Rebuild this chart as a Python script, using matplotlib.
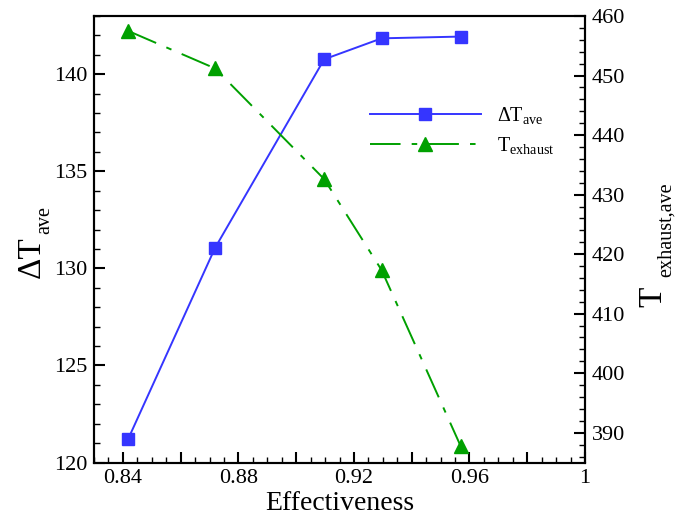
import numpy as np
import matplotlib
matplotlib.use("Agg")
import matplotlib.pyplot as plt
from matplotlib.ticker import MultipleLocator

plt.rcParams['font.family'] = ['Liberation Serif', 'DejaVu Serif']
plt.rcParams['mathtext.fontset'] = 'custom'
plt.rcParams['mathtext.rm'] = 'Liberation Serif'
plt.rcParams['mathtext.it'] = 'Liberation Serif:italic'
plt.rcParams['lines.scale_dashes'] = False

# data
effectiveness = [0.8418, 0.8719, 0.9097, 0.9296, 0.957]
dT_ave = [121.2, 131.05, 140.77, 141.85, 141.94]
T_exhaust = [457.5, 451.2, 432.6, 417.3, 387.7]

xtick_pos = [0.84, 0.86, 0.88, 0.90, 0.92, 0.94, 0.96, 0.98, 1.0]
xtick_labels = ['0.84', '', '0.88', '', '0.92', '', '0.96', '', '1']

blue = '#3535ff'
green = '#00a000'

W, H = 677, 518
fig = plt.figure(figsize=(W / 100, H / 100), dpi=100)
ax = fig.add_axes([94 / W, 1 - 462.5 / H, (585 - 94) / W, (462.5 - 16) / H])
ax2 = ax.twinx()

l1, = ax.plot(effectiveness, dT_ave, color=blue, lw=1.4, marker='s', ms=9,
              label=r'$\Delta\mathrm{T}_{\mathrm{ave}}$')
l2, = ax2.plot(effectiveness, T_exhaust, color=green, lw=1.4, marker='^', ms=10,
               dashes=(22, 8, 4, 8), label=r'$\mathrm{T}_{\mathrm{exhaust}}$')

ax.set_xlim(0.83, 1.0)
ax.set_ylim(120, 143)
ax2.set_ylim(385, 460)

ax.set_xticks(xtick_pos)
ax.set_xticklabels(xtick_labels)
ax.xaxis.set_minor_locator(MultipleLocator(0.005))
ax.yaxis.set_major_locator(MultipleLocator(5))
ax.yaxis.set_minor_locator(MultipleLocator(1))
ax2.yaxis.set_major_locator(MultipleLocator(10))
ax2.yaxis.set_minor_locator(MultipleLocator(2))

for a in (ax, ax2):
    for s in a.spines.values():
        s.set_linewidth(1.5)
    a.tick_params(which='major', direction='in', length=8, width=1.5, labelsize=16, pad=5)
    a.tick_params(which='minor', direction='in', length=4, width=1.0)
ax.tick_params(axis='x', which='both', top=False)

ax.set_xlabel('Effectiveness', fontsize=20, labelpad=2)

# axis titles with small subscripts, placed by pixel position
def rot_text(px, py, s, size):
    fig.text(px / W, 1 - py / H, s, fontsize=size, rotation=90,
             rotation_mode='anchor', ha='left', va='baseline')

rot_text(39.5, 278, 'ΔT', 24)
rot_text(49, 234, 'ave', 14.5)
rot_text(661, 307, 'T', 24)
rot_text(671, 277, 'exhaust,ave', 14.5)

ax2.legend(handles=[l1, l2], loc='upper left', bbox_to_anchor=(370 / W, 1 - 105 / H),
           bbox_transform=fig.transFigure, frameon=False, fontsize=14.5,
           handlelength=5.5, handletextpad=0.8, borderpad=0, borderaxespad=0,
           labelspacing=0.45)

fig.savefig('out.png', dpi=100)
